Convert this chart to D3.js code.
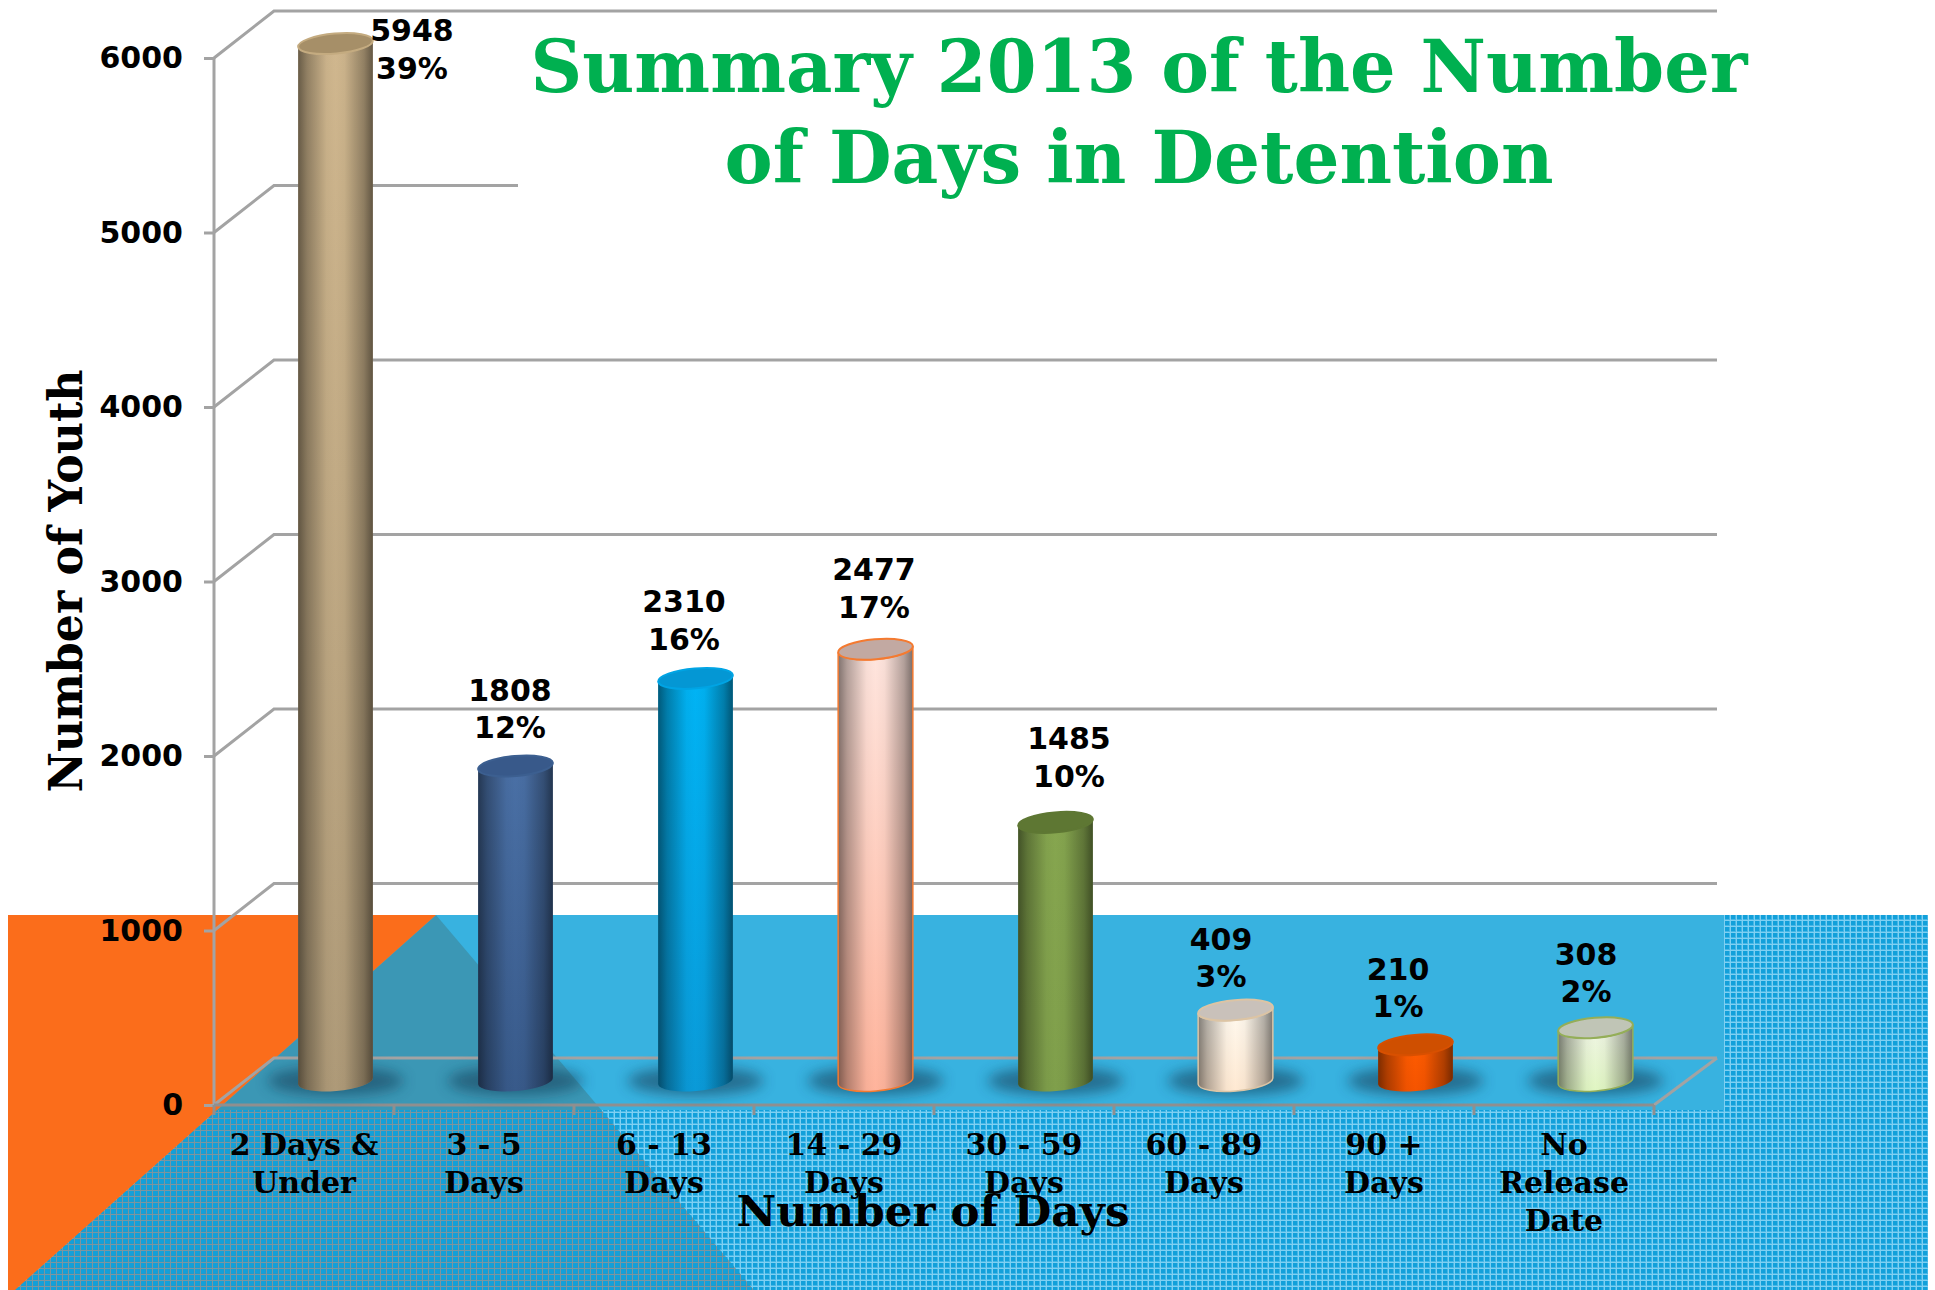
<!DOCTYPE html>
<html>
<head>
<meta charset="utf-8">
<script src="https://cdn.jsdelivr.net/npm/d3@7"></script>
<style>
  body { margin: 0; background: #fff; }
</style>
</head>
<body>
<div id="chart"></div>
<script>
const categories = ["2 Days &\nUnder", "3 - 5\nDays", "6 - 13\nDays", "14 - 29\nDays", "30 - 59\nDays", "60 - 89\nDays", "90 +\nDays", "No\nRelease\nDate"];
const youth = [5948, 1808, 2310, 2477, 1485, 409, 210, 308];
const percents = ["39%", "12%", "16%", "17%", "10%", "3%", "1%", "2%"];
const yTicks = [0, 1000, 2000, 3000, 4000, 5000, 6000];

// cylinder colours, same order as categories
const colorTop = ["#d0b78e", "#4a70a6", "#00b4f5", "#ffe6df", "#86a64f", "#fffaf0", "#ff5c00", "#f0f5e6"];
const colorBottom = ["#ae9a78", "#385a8a", "#0a9ad8", "#ffb49c", "#7f9f4b", "#ffe9d2", "#f55400", "#e0f6c2"];
const colorCap = ["#a68f68", "#38598a", "#0497d4", "#c2a9a2", "#5e7733", "#c9c1ba", "#cf4f00", "#c0c5b6"];
const colorRim = ["#c4ab80", "#3c5f90", "#00a4e4", "#f47a30", "#5e7733", "#dcc4a4", "#d85000", "#94ae58"];
const colorEdge = ["none", "none", "none", "#f47a30", "none", "#dcc4a4", "none", "#94ae58"];

// hand placed data labels, the first one sits beside its bar
const labelDx = [78, -4, -10, 0, 15, -13, -16, -8];
const labelDy = [62, -1, -2, -5, -9, 4, -1, 1];

const width = 1935;
const height = 1290;
const depth = { x: 60, y: 47 };
const barR = 37.5;
const tilt = 5 * Math.PI / 180;

const svg = d3.select("#chart")
    .append("svg")
    .attr("width", width)
    .attr("height", height)
    .style("display", "block");

const xScale = d3.scaleBand()
    .domain(categories)
    .range([214, 1654]);

const yScale = d3.scaleLinear()
    .domain([0, 6000])
    .range([1105, 58]);

const defs = svg.append("defs");

function plaid(id, base, line, soft) {
    const p = defs.append("pattern")
        .attr("id", id)
        .attr("width", 6)
        .attr("height", 6)
        .attr("patternUnits", "userSpaceOnUse");
    p.append("rect").attr("width", 6).attr("height", 6).attr("fill", base);
    p.append("rect").attr("x", 1).attr("width", 2).attr("height", 6).attr("fill", soft);
    p.append("rect").attr("y", 1).attr("width", 6).attr("height", 2).attr("fill", soft);
    p.append("rect").attr("x", 2).attr("width", 1).attr("height", 6).attr("fill", line);
    p.append("rect").attr("y", 2).attr("width", 6).attr("height", 1).attr("fill", line);
}
plaid("texture", "#12a0da", "#7fd0f2", "#45b6e6");
plaid("textureDark", "#12a0da", "#7d959f", "#1f9bcc");

defs.append("filter")
    .attr("id", "blur")
    .attr("x", "-30%").attr("y", "-60%")
    .attr("width", "160%").attr("height", "220%")
    .append("feGaussianBlur")
    .attr("stdDeviation", 7);

const shade = defs.append("linearGradient").attr("id", "shade");
[[0, 0.5], [0.12, 0.3], [0.38, 0.03], [0.5, 0], [0.62, 0.03], [0.88, 0.3], [1, 0.52]].forEach(s => {
    shade.append("stop")
        .attr("offset", s[0])
        .attr("stop-color", "#000")
        .attr("stop-opacity", s[1]);
});

categories.forEach((c, i) => {
    const g = defs.append("linearGradient")
        .attr("id", "bar" + i)
        .attr("x1", 0).attr("y1", 0)
        .attr("x2", 0).attr("y2", 1);
    g.append("stop").attr("offset", 0).attr("stop-color", colorTop[i]);
    g.append("stop").attr("offset", 1).attr("stop-color", colorBottom[i]);
});

// background shapes
const triangleLeft = "8,915 436,915 15,1290 8,1290";
const triangleDark = "436,915 15,1290 754,1290";

svg.append("rect")
    .attr("x", 8).attr("y", 915)
    .attr("width", 1920).attr("height", 375)
    .attr("fill", "url(#texture)");
svg.append("polygon").attr("points", triangleDark).attr("fill", "url(#textureDark)");
svg.append("rect")
    .attr("x", 8).attr("y", 915)
    .attr("width", 1716).attr("height", 195)
    .attr("fill", "#38b2e0");

defs.append("clipPath").attr("id", "plotClip")
    .append("rect")
    .attr("x", 8).attr("y", 915)
    .attr("width", 1716).attr("height", 195);
svg.append("polygon")
    .attr("points", triangleDark)
    .attr("fill", "#3b97b5")
    .attr("clip-path", "url(#plotClip)");
svg.append("polygon").attr("points", triangleLeft).attr("fill", "#fb6d1b");

// walls
const gridColor = "#a3a3a3";
const wall = svg.append("g")
    .attr("fill", "none")
    .attr("stroke", gridColor)
    .attr("stroke-width", 3);

wall.selectAll(".grid")
    .data(yTicks)
    .enter()
    .append("polyline")
    .attr("class", "grid")
    .attr("points", d => `214,${yScale(d)} ${214 + depth.x},${yScale(d) - depth.y} 1717,${yScale(d) - depth.y}`);

wall.append("line")
    .attr("x1", 1654).attr("y1", 1105)
    .attr("x2", 1717).attr("y2", 1105 - depth.y);

// the title box hides the 5000 line
svg.append("rect")
    .attr("x", 518).attr("y", 14)
    .attr("width", 1210).attr("height", 226)
    .attr("fill", "#fff");

// axes
const yAxis = d3.axisLeft(yScale)
    .tickValues(yTicks)
    .tickSize(10)
    .tickPadding(21)
    .tickFormat(d3.format("d"));

const yG = svg.append("g")
    .attr("transform", "translate(214,0)")
    .call(yAxis);
yG.selectAll("line").attr("stroke", gridColor).attr("stroke-width", 3);
yG.select(".domain").attr("d", `M0,${yScale(6000)}V${yScale(0)}`).attr("stroke", gridColor).attr("stroke-width", 3);
yG.selectAll("text")
    .attr("font-family", "'DejaVu Sans', sans-serif")
    .attr("font-weight", "bold")
    .attr("font-size", 30)
    .attr("fill", "#000");

const xAxis = d3.axisBottom(xScale).tickSize(0).tickPadding(0);

const xG = svg.append("g")
    .attr("transform", "translate(0,1105)")
    .call(xAxis);
xG.select(".domain").attr("d", "M214,0H1654").attr("stroke", "#8f8f8f").attr("stroke-width", 3);
xG.selectAll("text").each(function(d) {
    const t = d3.select(this).text(null)
        .attr("font-family", "'DejaVu Serif', serif")
        .attr("font-weight", "bold")
        .attr("font-size", 30)
        .attr("fill", "#000")
        .attr("y", 0)
        .attr("dy", null);
    d.split("\n").forEach((line, i) => {
        t.append("tspan")
            .attr("x", 0)
            .attr("y", 50 + i * 38)
            .text(line);
    });
});

svg.append("g").selectAll("line")
    .data(d3.range(categories.length + 1))
    .enter()
    .append("line")
    .attr("x1", d => 214 + d * xScale.step())
    .attr("x2", d => 214 + d * xScale.step())
    .attr("y1", 1105)
    .attr("y2", 1115)
    .attr("stroke", "#8f8f8f")
    .attr("stroke-width", 3);

// cylinders
const cx = d => xScale(d) + xScale.bandwidth() / 2 + depth.x / 2 + 1.5;
const baseY = yScale(0) - depth.y / 2 - 0.5;
const topY = v => yScale(v) - depth.y / 2;
const dxR = barR * Math.cos(tilt);
const dyR = barR * Math.sin(tilt);
const rotDeg = -tilt * 180 / Math.PI;

function bodyPath(c, v) {
    const t = topY(v);
    return `M${c - dxR},${t + dyR}` +
        `L${c - dxR},${baseY + dyR}` +
        `A${barR},10 ${rotDeg} 0 0 ${c + dxR},${baseY - dyR}` +
        `L${c + dxR},${t - dyR}` +
        `A${barR},10 ${rotDeg} 0 1 ${c - dxR},${t + dyR}Z`;
}

const bars = svg.append("g").selectAll("g")
    .data(categories)
    .enter()
    .append("g");

bars.append("ellipse")
    .attr("cx", d => cx(d))
    .attr("cy", baseY)
    .attr("rx", 68)
    .attr("ry", 14)
    .attr("fill", "#123f5a")
    .attr("opacity", 0.6)
    .attr("filter", "url(#blur)");

bars.append("path")
    .attr("d", (d, i) => bodyPath(cx(d), youth[i]))
    .attr("fill", (d, i) => `url(#bar${i})`);

bars.append("path")
    .attr("d", (d, i) => bodyPath(cx(d), youth[i]))
    .attr("fill", "url(#shade)")
    .attr("stroke", (d, i) => colorEdge[i])
    .attr("stroke-width", 1.5);

bars.append("ellipse")
    .attr("cx", d => cx(d))
    .attr("cy", (d, i) => topY(youth[i]))
    .attr("rx", barR)
    .attr("ry", 10)
    .attr("transform", (d, i) => `rotate(${rotDeg} ${cx(d)} ${topY(youth[i])})`)
    .attr("fill", (d, i) => colorCap[i])
    .attr("stroke", (d, i) => colorRim[i])
    .attr("stroke-width", 2);

// value and percent labels
const labels = svg.append("g")
    .attr("font-family", "'DejaVu Sans', sans-serif")
    .attr("font-weight", "bold")
    .attr("font-size", 30)
    .attr("text-anchor", "middle")
    .attr("fill", "#000");

categories.forEach((c, i) => {
    const lx = cx(c) - 1.5 + labelDx[i];
    const ly = topY(youth[i]) - 75 + labelDy[i];
    labels.append("text").attr("x", lx).attr("y", ly).attr("dy", "0.36em").text(youth[i]);
    labels.append("text").attr("x", lx).attr("y", ly + 37.5).attr("dy", "0.36em").text(percents[i]);
});

// titles
const title = svg.append("g")
    .attr("font-family", "'DejaVu Serif', serif")
    .attr("font-weight", "bold")
    .attr("font-size", 73)
    .attr("text-anchor", "middle")
    .attr("fill", "#00b050");

title.append("text")
    .attr("x", 1139).attr("y", 92)
    .attr("textLength", 1217)
    .attr("lengthAdjust", "spacingAndGlyphs")
    .text("Summary 2013 of the Number");
title.append("text")
    .attr("x", 1139).attr("y", 183)
    .attr("textLength", 829)
    .attr("lengthAdjust", "spacingAndGlyphs")
    .text("of Days in Detention");

svg.append("text")
    .attr("x", 933)
    .attr("y", 1226)
    .attr("text-anchor", "middle")
    .attr("font-family", "'DejaVu Serif', serif")
    .attr("font-weight", "bold")
    .attr("font-size", 42)
    .attr("textLength", 393)
    .attr("lengthAdjust", "spacingAndGlyphs")
    .text("Number of Days");

svg.append("text")
    .attr("transform", "translate(82,581) rotate(-90)")
    .attr("text-anchor", "middle")
    .attr("font-family", "'DejaVu Serif', serif")
    .attr("font-weight", "bold")
    .attr("font-size", 46)
    .attr("textLength", 423)
    .attr("lengthAdjust", "spacingAndGlyphs")
    .text("Number of Youth");
</script>
</body>
</html>
